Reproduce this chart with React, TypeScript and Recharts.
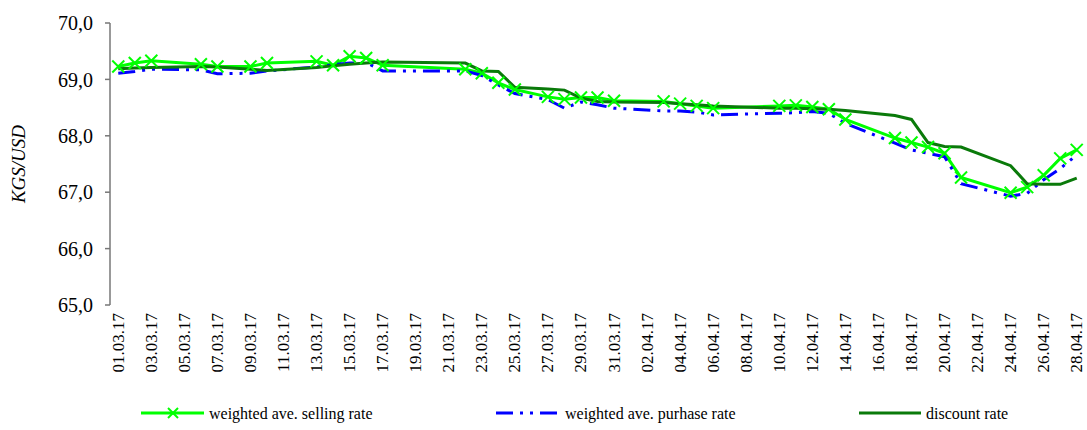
import { LineChart, Line, XAxis, YAxis, Legend } from "recharts";

const SERIF = '"Liberation Serif", "Times New Roman", serif';

// every calendar day on the axis
const allDays = [
  "01.03.17", "02.03.17", "03.03.17", "04.03.17", "05.03.17", "06.03.17", "07.03.17", "08.03.17",
  "09.03.17", "10.03.17", "11.03.17", "12.03.17", "13.03.17", "14.03.17", "15.03.17", "16.03.17",
  "17.03.17", "18.03.17", "19.03.17", "20.03.17", "21.03.17", "22.03.17", "23.03.17", "24.03.17",
  "25.03.17", "26.03.17", "27.03.17", "28.03.17", "29.03.17", "30.03.17", "31.03.17",
  "01.04.17", "02.04.17", "03.04.17", "04.04.17", "05.04.17", "06.04.17", "07.04.17", "08.04.17",
  "09.04.17", "10.04.17", "11.04.17", "12.04.17", "13.04.17", "14.04.17", "15.04.17", "16.04.17",
  "17.04.17", "18.04.17", "19.04.17", "20.04.17", "21.04.17", "22.04.17", "23.04.17", "24.04.17",
  "25.04.17", "26.04.17", "27.04.17", "28.04.17",
];

// trading days that have quotes
const tradeDays = [
  "01.03.17", "02.03.17", "03.03.17", "06.03.17", "07.03.17", "09.03.17", "10.03.17",
  "13.03.17", "14.03.17", "15.03.17", "16.03.17", "17.03.17", "22.03.17", "23.03.17",
  "24.03.17", "25.03.17", "27.03.17", "28.03.17", "29.03.17", "30.03.17", "31.03.17",
  "03.04.17", "04.04.17", "05.04.17", "06.04.17", "10.04.17", "11.04.17", "12.04.17",
  "13.04.17", "14.04.17", "17.04.17", "18.04.17", "19.04.17", "20.04.17", "21.04.17",
  "24.04.17", "25.04.17", "26.04.17", "27.04.17", "28.04.17",
];

const selling = [
  69.23, 69.29, 69.33, 69.27, 69.23, 69.23, 69.29,
  69.32, 69.25, 69.41, 69.38, 69.25, 69.18, 69.11,
  68.94, 68.82, 68.69, 68.65, 68.68, 68.68, 68.62,
  68.61, 68.57, 68.53, 68.49, 68.53, 68.54, 68.51,
  68.47, 68.29, 67.96, 67.88, 67.80, 67.69, 67.26,
  66.99, 67.09, 67.30, 67.60, 67.75,
];

const purchase = [
  69.11, 69.14, 69.18, 69.17, 69.10, 69.11, 69.15,
  69.22, 69.26, 69.29, 69.30, 69.15, 69.15, 69.07,
  68.90, 68.75, 68.64, 68.49, 68.60, 68.55, 68.49,
  68.44, 68.44, 68.42, 68.37, 68.40, 68.41, 68.43,
  68.40, 68.22, 67.87, 67.75, 67.69, 67.63, 67.15,
  66.93, 66.98, 67.22, 67.42, 67.66,
];

const discount = [
  69.19, 69.20, 69.21, 69.23, 69.22, 69.18, 69.16,
  69.21, 69.24, 69.27, 69.29, 69.31, 69.29, 69.15,
  69.14, 68.86, 68.83, 68.81, 68.67, 68.61, 68.60,
  68.59, 68.57, 68.55, 68.53, 68.49, 68.49, 68.48,
  68.47, 68.45, 68.36, 68.29, 67.88, 67.81, 67.80,
  67.47, 67.15, 67.14, 67.14, 67.25,
];

const yTicks = [65, 66, 67, 68, 69, 70];

const rows = allDays.map((date, idx) => {
  const k = tradeDays.indexOf(date);
  return {
    idx,
    date,
    selling: k >= 0 ? selling[k] : null,
    purchase: k >= 0 ? purchase[k] : null,
    discount: k >= 0 ? discount[k] : null,
  };
});

const labelTicks = rows.map((r) => r.idx).filter((i) => i % 2 === 0);
const boundaryTicks = labelTicks.map((i) => i - 0.5);

const LIME = "#00ff00";
const BLUE = "#0000ff";
const DARK = "#0a7a0a";
const DASHDOT = "17 7 3 7 3 7";

const CrossDot = (props: any) => {
  const { cx, cy, value, index } = props;
  if (cx == null || cy == null || value == null) return <g key={"d" + index} />;
  const s = 6;
  return (
    <g key={"d" + index}>
      <line x1={cx - s} y1={cy - s} x2={cx + s} y2={cy + s} stroke={LIME} strokeWidth={2} />
      <line x1={cx - s} y1={cy + s} x2={cx + s} y2={cy - s} stroke={LIME} strokeWidth={2} />
    </g>
  );
};

const DateTick = (props: any) => {
  const { x, y, payload } = props;
  return (
    <text
      x={x}
      y={y}
      transform={`rotate(-90 ${x} ${y})`}
      textAnchor="end"
      dominantBaseline="central"
      fontSize={17}
      fontFamily={SERIF}
      fill="#000"
    >
      {allDays[payload.value]}
    </text>
  );
};

const NoTick = () => <g />;

const YTitle = (props: any) => {
  const vb = props.viewBox || { x: 0, y: 23, height: 282 };
  const cx = vb.x + 25;
  const cy = vb.y + vb.height / 2;
  return (
    <text
      x={cx}
      y={cy}
      transform={`rotate(-90 ${cx} ${cy})`}
      textAnchor="middle"
      fontSize={19}
      fontStyle="italic"
      fontFamily={SERIF}
      fill="#000"
    >
      KGS/USD
    </text>
  );
};

const renderLegend = () => (
  <svg width={1087} height={30} style={{ display: "block" }}>
    <g fontFamily={SERIF} fontSize={16} fill="#000">
      <line x1={141} y1={13} x2={204} y2={13} stroke={LIME} strokeWidth={3} />
      <line x1={168} y1={8} x2={178} y2={18} stroke={LIME} strokeWidth={2} />
      <line x1={168} y1={18} x2={178} y2={8} stroke={LIME} strokeWidth={2} />
      <text x={209} y={13} dominantBaseline="central">weighted ave. selling rate</text>

      <line x1={496} y1={13} x2={559} y2={13} stroke={BLUE} strokeWidth={3} strokeDasharray={DASHDOT} />
      <text x={565} y={13} dominantBaseline="central">weighted ave. purhase rate</text>

      <line x1={859} y1={13} x2={921} y2={13} stroke={DARK} strokeWidth={3} />
      <text x={926} y={13} dominantBaseline="central">discount rate</text>
    </g>
  </svg>
);

export default function App() {
  return (
    <div style={{ position: "absolute", left: 0, top: 0, background: "#fff" }}>
      <LineChart width={1087} height={430} data={rows} margin={{ top: 23, right: 2, bottom: 0, left: 0 }}>
        <XAxis
          xAxisId="grid"
          dataKey="idx"
          type="number"
          domain={[-0.5, 58.5]}
          ticks={boundaryTicks}
          interval={0}
          allowDecimals
          height={0}
          tick={NoTick}
          tickSize={5}
          stroke="#777"
          axisLine={{ stroke: "#777", strokeWidth: 1.5 }}
          tickLine={{ stroke: "#777", strokeWidth: 1.5 }}
        />
        <XAxis
          xAxisId="dates"
          dataKey="idx"
          type="number"
          domain={[-0.5, 58.5]}
          ticks={labelTicks}
          interval={0}
          height={95}
          axisLine={false}
          tickLine={false}
          tickSize={5}
          tickMargin={3}
          tick={<DateTick />}
        />
        <YAxis
          domain={[65, 70]}
          ticks={yTicks}
          interval={0}
          width={110}
          tickSize={5}
          tickMargin={12}
          tickFormatter={(v: number) => v.toFixed(1).replace(".", ",")}
          tick={{ fill: "#000", fontSize: 20, fontFamily: SERIF }}
          axisLine={{ stroke: "#777", strokeWidth: 1.5 }}
          tickLine={{ stroke: "#777", strokeWidth: 1.5 }}
          label={<YTitle />}
        />
        <Legend verticalAlign="bottom" align="left" content={renderLegend} wrapperStyle={{ left: 0, height: 30 }} />
        <Line
          xAxisId="dates"
          dataKey="selling"
          stroke={LIME}
          strokeWidth={3}
          connectNulls
          dot={CrossDot}
          activeDot={false}
          isAnimationActive={false}
        />
        <Line
          xAxisId="dates"
          dataKey="purchase"
          stroke={BLUE}
          strokeWidth={3}
          strokeDasharray={DASHDOT}
          connectNulls
          dot={false}
          activeDot={false}
          isAnimationActive={false}
        />
        <Line
          xAxisId="dates"
          dataKey="discount"
          stroke={DARK}
          strokeWidth={3}
          connectNulls
          dot={false}
          activeDot={false}
          isAnimationActive={false}
        />
      </LineChart>
    </div>
  );
}
